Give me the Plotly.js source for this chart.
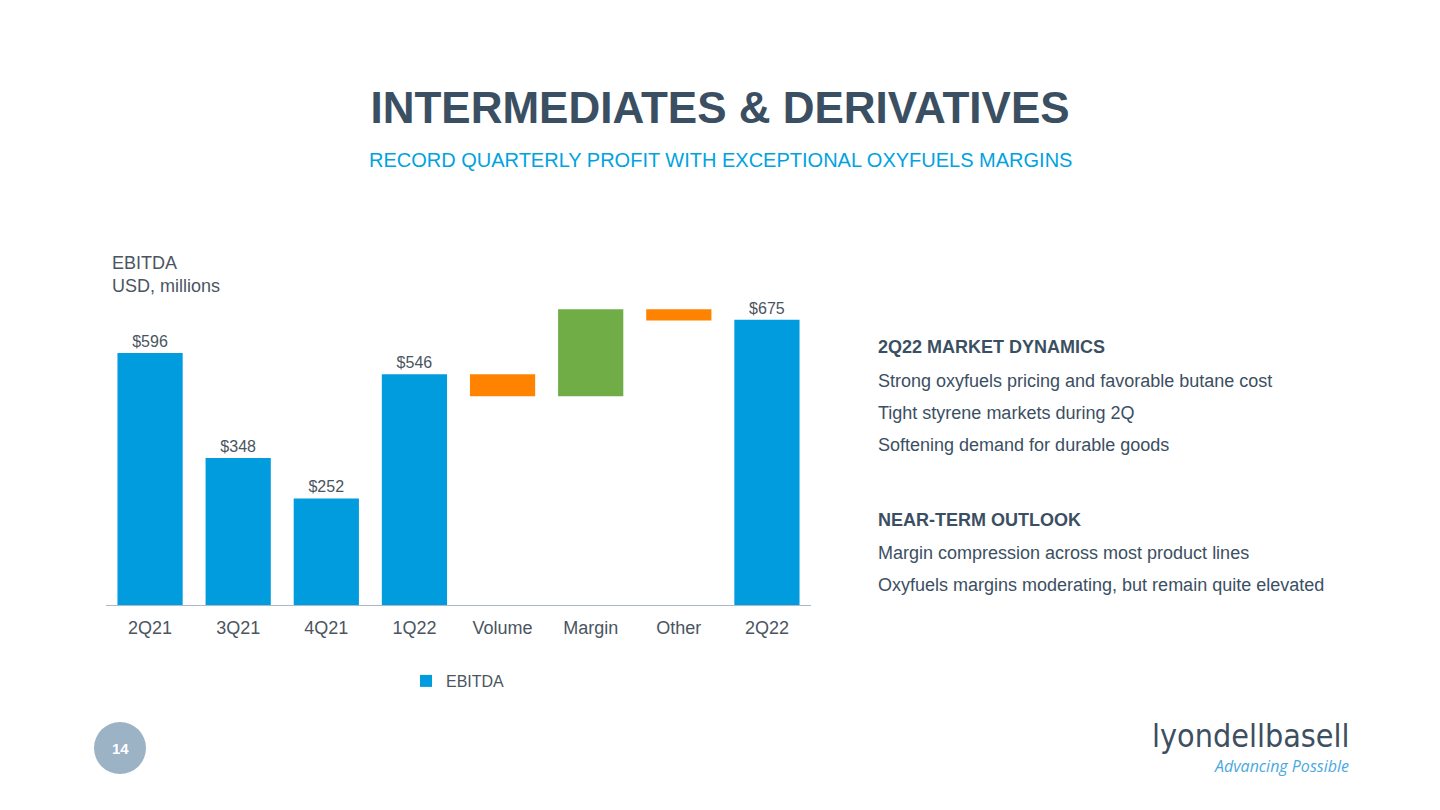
<!DOCTYPE html>
<html>
<head>
<meta charset="utf-8">
<script src="https://cdn.plot.ly/plotly-3.0.1.min.js"></script>
<style>
html,body{margin:0;padding:0;background:#fff;}
#chart{width:1440px;height:810px;}
</style>
</head>
<body>
<div id="chart"></div>
<script>
// Data
var categories = ["2Q21","3Q21","4Q21","1Q22","Volume","Margin","Other","2Q22"];
var quarterLabels = ["2Q21","3Q21","4Q21","1Q22","2Q22"];
var quarterValues = [596, 348, 252, 546, 675];
var bridgeLabels = ["Volume","Margin","Other"];
var bridgeDeltas = [-52, 206, -27];

var blue = "#009cde", orange = "#ff8300", green = "#70ad47";

// bridge bars: base from running total starting at 1Q22
var running = quarterValues[3];
var bBase = [], bLen = [], bColor = [];
bridgeDeltas.forEach(function(d){
  var next = running + d;
  bBase.push(Math.min(running, next));
  bLen.push(Math.abs(d));
  bColor.push(d < 0 ? orange : green);
  running = next;
});

var traces = [
  {
    type: "bar", name: "EBITDA",
    x: quarterLabels, y: quarterValues,
    marker: {color: blue},
    text: quarterValues.map(function(v){return "$" + v;}),
    textposition: "outside", cliponaxis: false,
    textfont: {family: "Liberation Sans, Arial, sans-serif", size: 16, color: "#4a5561"},
    hoverinfo: "x+y"
  },
  {
    type: "bar", name: "Bridge", showlegend: false,
    x: bridgeLabels, y: bLen, base: bBase,
    marker: {color: bColor},
    hoverinfo: "x"
  }
];

function px(x){return (x-106)/705;}
function py(y){return (605-y)/317;}
function note(t, x, y, size, color, anchor, fam){
  return {text: t, xref: "paper", yref: "paper", x: px(x), y: py(y),
    xanchor: anchor || "left", yanchor: "middle", showarrow: false, align: "left",
    font: {family: fam || "Liberation Sans, Arial, sans-serif", size: size, color: color}};
}
var dark = "#3b4f63";

var layout = {
  width: 1440, height: 810,
  paper_bgcolor: "#ffffff", plot_bgcolor: "#ffffff",
  margin: {l: 106, r: 629, t: 288, b: 205},
  barmode: "overlay", bargap: 0.26,
  font: {family: "Liberation Sans, Arial, sans-serif", color: "#4a5561"},
  xaxis: {
    type: "category", categoryorder: "array", categoryarray: categories,
    showline: true, linecolor: "#a9b9c9", linewidth: 1,
    ticks: "", showgrid: false, zeroline: false,
    tickfont: {size: 18, color: "#4a5561"}, ticklabelstandoff: 6
  },
  yaxis: {
    range: [0, 750], visible: false, showgrid: false, zeroline: false, fixedrange: true
  },
  showlegend: true,
  legend: {
    orientation: "h", x: px(458), xanchor: "center", xref: "paper",
    y: py(681), yanchor: "middle",
    font: {size: 16, color: "#4a5561"}, itemwidth: 30
  },
  title: {
    text: "<b>INTERMEDIATES & DERIVATIVES</b>",
    x: 0.5, xanchor: "center", xref: "container",
    y: 1 - 108/810, yanchor: "middle", yref: "container",
    font: {family: "Liberation Sans, Arial, sans-serif", size: 44, color: dark}
  },
  annotations: [
    note("RECORD QUARTERLY PROFIT WITH EXCEPTIONAL OXYFUELS MARGINS", 720, 160, 20, "#00a3e0", "center"),
    note("EBITDA<br>USD, millions", 110, 274, 18, "#4a5561"),
    note("<b>2Q22 MARKET DYNAMICS</b>", 876, 347, 18, dark),
    note("Strong oxyfuels pricing and favorable butane cost", 876, 381, 18, dark),
    note("Tight styrene markets during 2Q", 876, 413, 18, dark),
    note("Softening demand for durable goods", 876, 445, 18, dark),
    note("<b>NEAR-TERM OUTLOOK</b>", 876, 520, 18, dark),
    note("Margin compression across most product lines", 876, 553, 18, dark),
    note("Oxyfuels margins moderating, but remain quite elevated", 876, 585, 18, dark),
    note("<b>14</b>", 120, 748, 15, "#ffffff", "center"),
    note("lyondellbasell", 1352, 736, 32, "#3d4f60", "right", "DejaVu Sans Condensed, DejaVu Sans, sans-serif"),
    note("<i>Advancing Possible</i>", 1351, 766, 16, "#4aa8e0", "right", "Open Sans, sans-serif")
  ],
  shapes: [
    {type: "circle", xref: "paper", yref: "paper",
     x0: px(94), x1: px(146), y0: py(774), y1: py(722),
     fillcolor: "#9cb2c5", line: {width: 0}, layer: "below"}
  ]
};

Plotly.newPlot("chart", traces, layout, {displayModeBar: false, staticPlot: true});
</script>
</body>
</html>
